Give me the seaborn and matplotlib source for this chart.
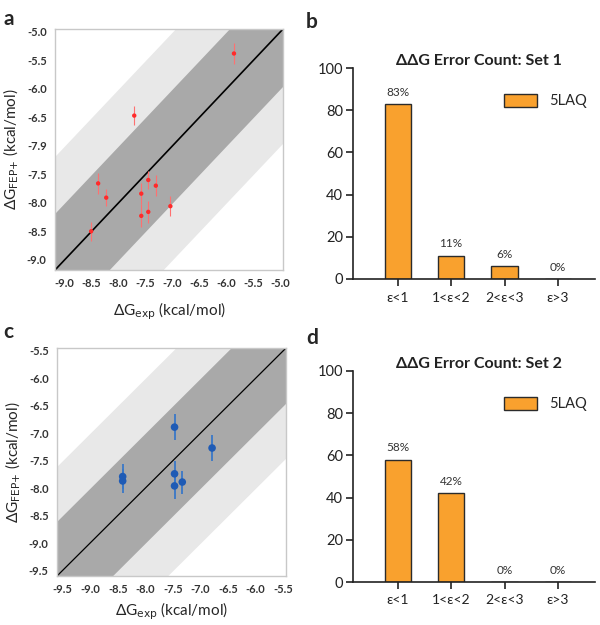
"""FEP+ vs experiment scatter panels with ddG error-count bar panels."""

import matplotlib
matplotlib.use("Agg")
import matplotlib.pyplot as plt
import numpy as np
import pandas as pd
import seaborn as sns

# Panel a: set 1 (red)
a_exp = [-5.86, -7.71, -8.38, -8.23, -8.51, -7.58, -7.58, -7.45, -7.45, -7.31, -7.04]
a_fep = [-5.38, -6.47, -7.66, -7.91, -8.50, -7.84, -8.23, -7.60, -8.16, -7.70, -8.06]
a_err = [0.18, 0.16, 0.18, 0.15, 0.17, 0.19, 0.20, 0.16, 0.19, 0.18, 0.18]

# Panel c: set 2 (blue)
c_exp = [-8.41, -8.41, -7.47, -7.47, -7.47, -7.33, -6.79]
c_fep = [-7.79, -7.87, -6.89, -7.74, -7.96, -7.89, -7.27]
c_err = [0.22, 0.22, 0.23, 0.23, 0.23, 0.21, 0.23]

# Error-count bars
bins = ["ε<1", "1<ε<2", "2<ε<3", "ε>3"]
set1_pct = [83, 11, 6, 0]
set2_pct = [58, 42, 0, 0]
structure = "5LAQ"

sns.set_theme(style="white")
plt.rcParams["font.family"] = ["Lato", "DejaVu Sans"]

fig = plt.figure(figsize=(6, 6.25), dpi=100)
ax_a = fig.add_axes([0.0917, 0.568, 0.38, 0.3856])
ax_c = fig.add_axes([0.095, 0.0784, 0.3817, 0.3648])
ax_b = fig.add_axes([0.588, 0.5536, 0.4033, 0.3376])
ax_d = fig.add_axes([0.588, 0.0688, 0.4033, 0.3376])


def scatter_panel(ax, xs, ys, errs, lims, ticks, color, ecolor, ms, elw, lw,
                  yticklabels=None, xlabelpad=8):
    lo, hi = lims
    line = np.array([lo, hi])
    ax.fill_between(line, line - 2, line + 2, color="#e8e8e8", lw=0, zorder=0)
    ax.fill_between(line, line - 1, line + 1, color="#a9a9a9", lw=0, zorder=1)
    ax.plot(line, line, color="black", lw=lw, zorder=2)
    ax.errorbar(xs, ys, yerr=errs, fmt="none", ecolor=ecolor, elinewidth=elw, zorder=3)
    df = pd.DataFrame({"x": xs, "y": ys})
    sns.scatterplot(data=df, x="x", y="y", color=color, s=ms, edgecolor="none", ax=ax, zorder=4)
    ax.set_xlim(lo, hi)
    ax.set_ylim(lo, hi)
    ax.set_xticks(ticks)
    ax.set_yticks(ticks)
    ax.set_xticklabels([f"{t:.1f}" for t in ticks], fontsize=8, fontweight="bold", color="#333333")
    ax.set_yticklabels(yticklabels or [f"{t:.1f}" for t in ticks], fontsize=8,
                       fontweight="bold", color="#333333")
    ax.tick_params(length=0, pad=6)
    for s in ax.spines.values():
        s.set_color("#c8c8c8")
        s.set_linewidth(1)
    ax.set_xlabel("ΔG$_{\\mathrm{exp}}$ (kcal/mol)", fontsize=11, labelpad=xlabelpad)
    ax.set_ylabel("ΔG$_{\\mathrm{FEP{+}}}$ (kcal/mol)", fontsize=11, labelpad=4)


a_ticks = [-9.0, -8.5, -8.0, -7.5, -7.0, -6.5, -6.0, -5.5, -5.0]
a_ylabels = ["-9.0", "-8.5", "-8.0", "-7.5", "-7.9", "-6.5", "-6.0", "-5.5", "-5.0"]
scatter_panel(ax_a, a_exp, a_fep, a_err, (-9.18, -4.95), a_ticks,
              "#ff2a2a", "#ff7070", 10, 0.8, 1.2, a_ylabels)

c_ticks = [-9.5, -9.0, -8.5, -8.0, -7.5, -7.0, -6.5, -6.0, -5.5]
scatter_panel(ax_c, c_exp, c_fep, c_err, (-9.6, -5.45), c_ticks,
              "#1f5bb5", "#3a78c8", 30, 1.3, 0.9, xlabelpad=4)


def bar_panel(ax, values, title):
    df = pd.DataFrame({"bin": bins, "pct": values, "structure": structure})
    sns.barplot(data=df, x="bin", y="pct", hue="structure", palette={structure: "#f9a12e"},
                saturation=1, width=0.49, edgecolor="#2b2b2b", linewidth=1.0, ax=ax)
    for i, v in enumerate(values):
        ax.text(i, v + 3, f"{v}%", ha="center", va="bottom", fontsize=8.5, color="#333333")
    ax.set_xlim(-0.84, 3.69)
    ax.set_ylim(0, 100)
    ax.set_yticks([0, 20, 40, 60, 80, 100])
    ax.set_xlabel("")
    ax.set_ylabel("")
    sns.despine(ax=ax)
    for s in ("left", "bottom"):
        ax.spines[s].set_color("#222222")
        ax.spines[s].set_linewidth(1.2)
    ax.tick_params(axis="both", which="both", direction="out", length=5, width=1.2,
                   color="#222222", left=True, bottom=True)
    ax.tick_params(axis="y", labelsize=10.5, labelcolor="#222222", pad=2)
    ax.tick_params(axis="x", labelsize=10, labelcolor="#222222", pad=4)
    ax.set_title(title, fontsize=11.5, fontweight="bold", x=0.52, pad=0, color="#222222")
    leg = ax.legend(loc="upper right", bbox_to_anchor=(1.02, 0.94), frameon=False,
                    fontsize=10.5, handlelength=2.3, handleheight=1.0, handletextpad=0.8)
    leg.set_title(None)


bar_panel(ax_b, set1_pct, "ΔΔG Error Count: Set 1")
bar_panel(ax_d, set2_pct, "ΔΔG Error Count: Set 2")

for lbl, (x, y) in {"a": (0.005, 0.985), "b": (0.51, 0.98), "c": (0.005, 0.485), "d": (0.51, 0.475)}.items():
    fig.text(x, y, lbl, fontsize=15, fontweight="bold", va="top", ha="left")

fig.savefig("out.png", dpi=100)
